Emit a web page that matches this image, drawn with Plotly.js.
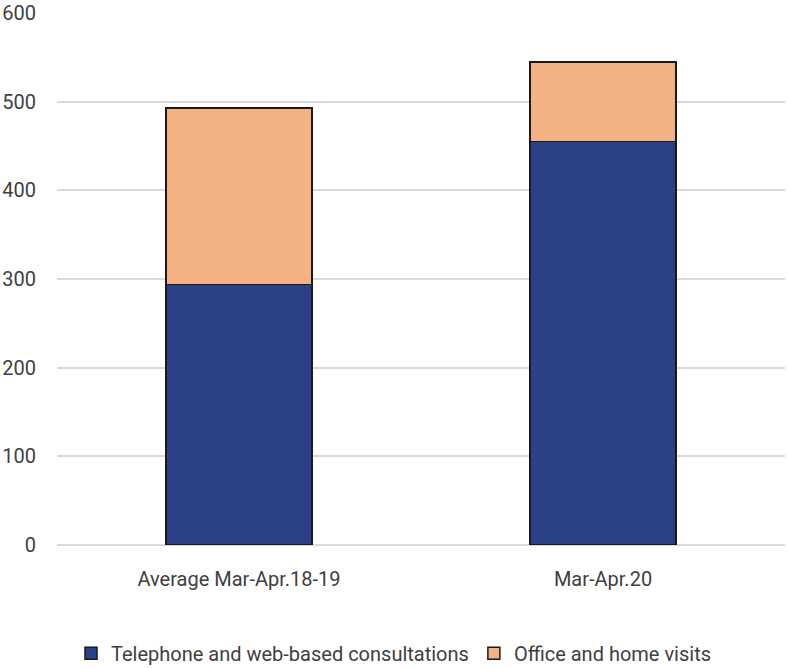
<!DOCTYPE html>
<html>
<head>
<meta charset="utf-8">
<script src="https://cdn.plot.ly/plotly-3.0.1.min.js"></script>
<style>html,body{margin:0;padding:0;background:#fff}#chart{width:788px;height:668px}</style>
</head>
<body>
<div id="chart"></div>
<script>
const categories = ["Average Mar-Apr.18-19", "Mar-Apr.20"];
const seriesNames = ["Telephone and web-based consultations", "Office and home visits"];
const telephoneWeb = [294, 455];
const officeHome = [199, 90];
const yTicks = [0, 100, 200, 300, 400, 500, 600];

const font = {family: "Roboto, sans-serif", size: 20, color: "#404040"};
const legendFont = {family: "Roboto, sans-serif", size: 20, color: "#404040"};

const traces = [
  {type: "bar", name: seriesNames[0], x: categories, y: telephoneWeb,
   marker: {color: "#2A4188", line: {color: "#1a1a1a", width: 1.5}}},
  {type: "bar", name: seriesNames[1], x: categories, y: officeHome,
   marker: {color: "#F4B183", line: {color: "#1a1a1a", width: 1.5}}}
];

const layout = {
  width: 788, height: 668,
  barmode: "stack", bargap: 0.6,
  margin: {l: 57, r: 3, t: 13, b: 123},
  paper_bgcolor: "#fff", plot_bgcolor: "#fff",
  font: font,
  showlegend: true,
  legend: {orientation: "h", xref: "container", yref: "container", x: 0.5, xanchor: "center",
           y: 0.022, yanchor: "middle", font: legendFont, itemwidth: 30, traceorder: "normal"},
  xaxis: {type: "category", showgrid: false, showline: false, zeroline: false, ticks: "",
          ticklabelstandoff: 20, tickfont: font},
  yaxis: {range: [0, 600], tickvals: yTicks, ticktext: yTicks.map(String), showgrid: true,
          gridcolor: "#d9d9d9", gridwidth: 2, zeroline: true, zerolinecolor: "#d9d9d9", zerolinewidth: 2,
          showline: false, ticks: "", ticklabelstandoff: 20, tickfont: font}
};

Plotly.newPlot("chart", traces, layout, {displayModeBar: false, staticPlot: true});
</script>
</body>
</html>
